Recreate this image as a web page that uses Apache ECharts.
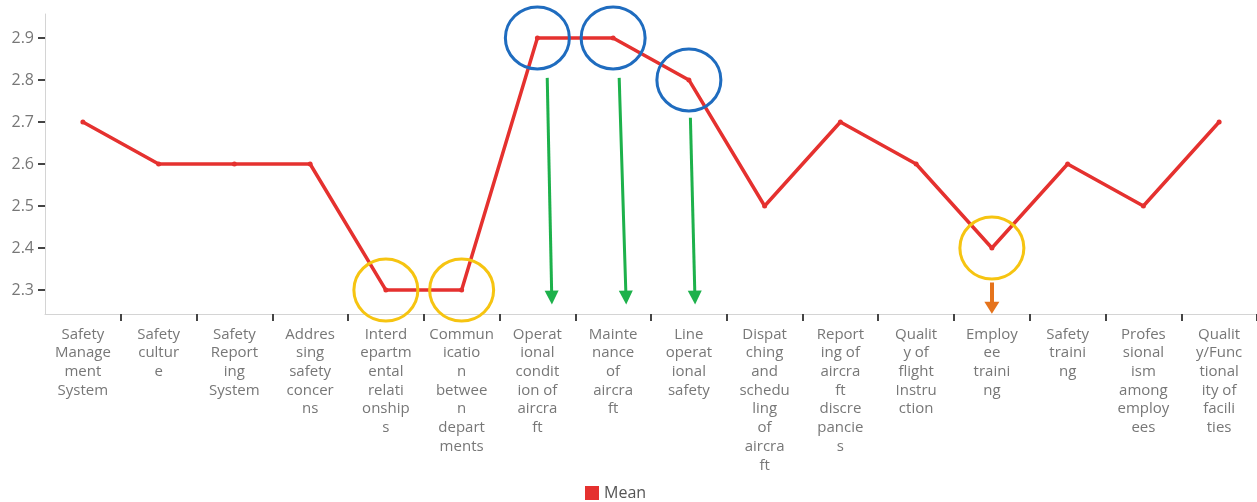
<!DOCTYPE html>
<html>
<head>
<meta charset="utf-8">
<script src="https://cdn.jsdelivr.net/npm/echarts@6.0.0/dist/echarts.min.js"></script>
<style>
  html, body { margin: 0; padding: 0; background: #fff; }
  #root { width: 1257px; height: 502px; }
</style>
</head>
<body>
<div id="root"></div>
<script>
const categories = [
  'Safety Management System', 'Safety culture', 'Safety Reporting System',
  'Addressing safety concerns', 'Interdepartmental relationships',
  'Communication between departments', 'Operational condition of aircraft',
  'Maintenance of aircraft', 'Line operational safety',
  'Dispatching and scheduling of aircraft', 'Reporting of aircraft discrepancies',
  'Quality of flight Instruction', 'Employee training', 'Safety training',
  'Professionalism among employees', 'Quality/Functionality of facilities'
]
const meanValues = [2.7, 2.6, 2.6, 2.6, 2.3, 2.3, 2.9, 2.9, 2.8, 2.5, 2.7, 2.6, 2.4, 2.6, 2.5, 2.7]
const yTicks = [2.3, 2.4, 2.5, 2.6, 2.7, 2.8, 2.9]

// annotations (category index)
const lowMarks = [4, 5, 12]
const highMarks = [6, 7, 8]
// arrows: [xStart, yStart, xEnd, yEnd] in data units
const greenArrows = [
  [6.13, 2.805, 6.19, 2.282],
  [7.08, 2.805, 7.17, 2.282],
  [8.02, 2.71, 8.08, 2.282]
]
const orangeArrows = [
  [12, 2.318, 12, 2.258]
]

// wrap a label at ~6 characters the way the original does
const wrapLabel = (text, width = 6) => {
  const lines = []
  let cur = ''
  text.split(' ').forEach(word => {
    const cand = cur ? cur + ' ' + word : word
    if (cand.length <= width) {
      cur = cand
      return
    }
    if (cur) lines.push(cur)
    while (word.length > width) {
      lines.push(word.slice(0, width))
      word = word.slice(width)
    }
    cur = word
  })
  if (cur) lines.push(cur)
  return lines.join('\n')
}

const ringSeries = (idx, color) => ({
  type: 'scatter',
  silent: true,
  z: 5,
  symbol: 'circle',
  symbolSize: [64, 62],
  itemStyle: { color: 'rgba(0,0,0,0)', borderColor: color, borderWidth: 3, opacity: 1 },
  data: idx.map(i => [i, meanValues[i]])
})

const arrowSeries = (arrows, color, width, head) => ({
  type: 'line',
  xAxisIndex: 1,
  data: [],
  silent: true,
  markLine: {
    silent: true,
    symbol: ['none', 'triangle'],
    symbolSize: head,
    label: { show: false },
    lineStyle: { color: color, width: width, type: 'solid' },
    emphasis: { disabled: true },
    data: arrows.map(a => [{ coord: [a[0], a[1]] }, { coord: [a[2], a[3]] }])
  }
})

const font = 'Open Sans'
const chart = echarts.init(document.getElementById('root'))
chart.setOption({
  animation: false,
  textStyle: { fontFamily: font },
  grid: { left: 45, right: 0, top: 14, bottom: 188, containLabel: false },
  legend: {
    data: ['Mean'],
    left: 580,
    top: 480,
    icon: 'rect',
    itemWidth: 14,
    itemHeight: 14,
    itemGap: 8,
    textStyle: { color: '#555', fontSize: 16, fontFamily: font }
  },
  xAxis: [
    {
      type: 'category',
      data: categories,
      boundaryGap: true,
      axisLine: { onZero: false, lineStyle: { color: '#d4d4d4', width: 1 } },
      axisTick: {
        show: true,
        length: 7,
        interval: i => i !== 0,
        lineStyle: { color: '#444', width: 2 }
      },
      axisLabel: {
        interval: 0,
        margin: 11,
        color: '#777',
        fontSize: 15,
        lineHeight: 18.7,
        fontFamily: font,
        formatter: v => wrapLabel(v)
      },
      splitLine: { show: false }
    },
    {
      type: 'value',
      min: -0.5,
      max: 15.5,
      show: false
    }
  ],
  yAxis: {
    type: 'value',
    min: 2.243,
    max: 2.957,
    axisLine: { show: true, onZero: false, lineStyle: { color: '#d4d4d4', width: 1 } },
    axisTick: {
      show: true,
      length: 7,
      customValues: yTicks,
      lineStyle: { color: '#444', width: 2 }
    },
    axisLabel: {
      customValues: yTicks,
      margin: 11,
      color: '#777',
      fontSize: 16,
      fontFamily: font,
      formatter: v => v.toFixed(1)
    },
    splitLine: { show: false }
  },
  series: [
    {
      name: 'Mean',
      type: 'line',
      data: meanValues,
      color: '#e5312f',
      symbol: 'circle',
      symbolSize: 5,
      lineStyle: { width: 3.5, color: '#e5312f' },
      itemStyle: { color: '#e5312f' },
      z: 3
    },
    ringSeries(lowMarks, '#f6c411'),
    ringSeries(highMarks, '#1f6cbf'),
    arrowSeries(greenArrows, '#1db14b', 3, [14, 14]),
    arrowSeries(orangeArrows, '#e5731c', 4, [15, 12])
  ]
})
</script>
</body>
</html>
